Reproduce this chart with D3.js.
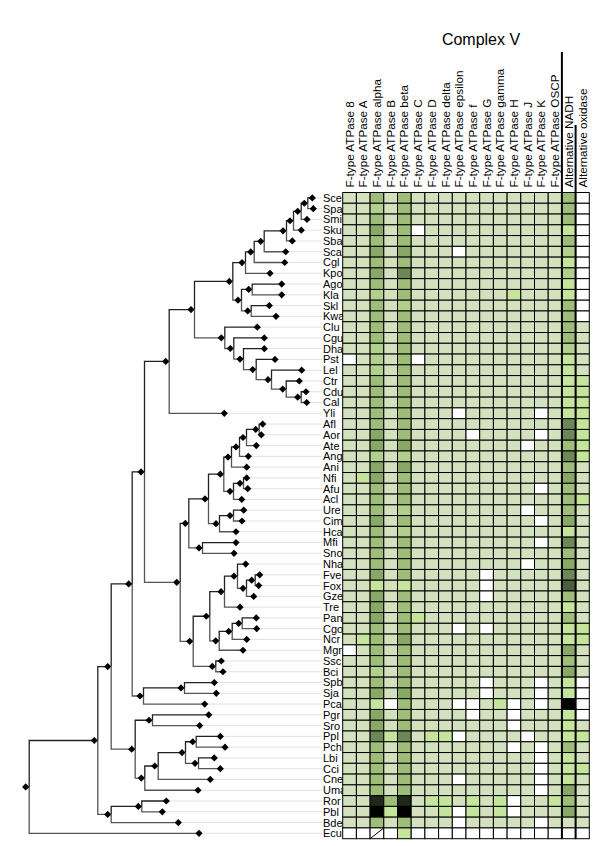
<!DOCTYPE html>
<html><head><meta charset="utf-8">
<script src="https://cdn.jsdelivr.net/npm/d3@7"></script>
<style>body{margin:0;background:#fff}svg{display:block}text{font-family:Arial,"Liberation Sans",sans-serif}</style>
</head><body>
<script>
// ---------- DATA ----------
const species = ["Sce","Spa","Smi","Sku","Sba","Sca","Cgl","Kpo","Ago","Kla","Skl","Kwa","Clu","Cgu","Dha","Pst","Lel","Ctr","Cdu","Cal","Yli","Afl","Aor","Ate","Ang","Ani","Nfi","Afu","Acl","Ure","Cim","Hca","Mfi","Sno","Nha","Fve","Fox","Gze","Tre","Pan","Cgo","Ncr","Mgr","Ssc","Bci","Spb","Sja","Pca","Pgr","Sro","Ppl","Pch","Lbi","Cci","Cne","Uma","Ror","Pbl","Bde","Ecu"];
const genes = ["F-type ATPase 8","F-type ATPase A","F-type ATPase alpha","F-type ATPase B","F-type ATPase beta","F-type ATPase C","F-type ATPase D","F-type ATPase delta","F-type ATPase epsilon","F-type ATPase f","F-type ATPase G","F-type ATPase gamma","F-type ATPase H","F-type ATPase J","F-type ATPase K","F-type ATPase OSCP","Alternative NADH","Alternative oxidase"];
const title = "Complex V";
// heat levels per species (one char per gene); x = absent with slash
const levels = [
"114141111111111140",
"113141111111111140",
"114141111111111140",
"115140111111111120",
"114141111111111140",
"115151110111111130",
"114141111111111120",
"115161111111111130",
"114141111111111120",
"113141111111211120",
"114131111111111140",
"114141111111111140",
"114141111111111141",
"114141111111111141",
"113141111111111131",
"013140111111111121",
"113141111111111121",
"114141111111111122",
"114141111111111122",
"114141111111111122",
"114141110111110122",
"114141111111111162",
"115141111011110162",
"115151111111101142",
"113131111111111162",
"115151111111111141",
"125141111111111151",
"114141111111110141",
"114141111111111142",
"114131111111101141",
"115141111111110151",
"114131111111111121",
"114141111111110161",
"114141111111111141",
"114141111111101151",
"115141111101111161",
"112121111101111171",
"115141111101111141",
"115141111111111121",
"115142111111111141",
"114141110101111122",
"124151111111111122",
"014141111111111151",
"114141111111111141",
"113141111111111151",
"114141111101110120",
"115151111101110120",
"112041110012010190",
"115141111011011120",
"115141111111011121",
"116261220111101122",
"114141111111010141",
"114141111111110121",
"114141111111110122",
"114141110111110121",
"114141111111110151",
"118481221212011241",
"119291120212011151",
"114141110111110111",
"00x020000000000000"
];
// tree (Newick; number after ':' = node position along the distance axis)
const nwSacch = "((((((((Sce:286.6,Spa:287.6):278.6,Smi:281.3):272,Sku:275.6):264.3,Sba:266.6):257.3,Sca:260):235,Cgl:259):225,Kpo:244.3):216.3,((Ago:256,Kla:256):223,(Skl:243.6,Kwa:250.3):222):212.3):203.6";
const nwCTG = "(Clu:231.6,(Cgu:238.6,(Dha:238.6,(Pst:249.3,(Lel:276,(Ctr:273.6,(Cdu:280.3,Cal:281):272):257):242.3):227):214.3):204.6):195.6";
const nwAsp = "(((((Afl:237,Aor:235.6):230,Ate:230.6):217.3,Ang:222.6):210.3,Ani:221):202.3,((Nfi:221,Afu:222):214.3,Acl:216):204.3):194.6";
const nwOny = "((Ure:218,Cim:216.3):204.3,Hca:210.3):190.3";
const nwDoth = "(Mfi:210.3,Sno:208.3):173.3";
const nwHyp = "((Nha:220,((Fve:234,Fox:233):226,Gze:228):217.3):208.3,Tre:214.3):195.3";
const nwSord = "(((Pan:230.6,Cgo:231):213,Ncr:221):203,Mgr:217.3):190";
const nwLeot = "(Ssc:195.6,Bci:197.3):186.6";
const nwTaph = "((Spb:188.6,Sja:190.6):155.3,Pca:179):114.3";
const nwBasid = "((Pgr:183,Sro:174):123.3,((((Ppl:194.6,Pch:199.3):167,(Lbi:188.6,Cci:194.6):169.3):156.3,Cne:184.6):129,Uma:172.3):115.6):106";
const nwEarly = "((Ror:140.6,Pbl:136.6):112.6,Bde:152.6):82";
const nwOut = "Ecu:173.3";

// ---------- STYLE ----------
const palette = {"0":"#ffffff","x":"#ffffff","1":"#d3e1bf","2":"#c5e59c","3":"#b0d08b","4":"#9dbd78","5":"#88a866","6":"#6d8856","7":"#4a5f3e","8":"#1f281a","9":"#000000"};

const nwPez = "(((" + nwAsp + "," + nwOny + "):179.3," + nwDoth + "):159.6,((" + nwHyp + "," + nwSord + "):180.6," + nwLeot + "):164):151";
const nwSaccharomycotina = "((" + nwSacch + "," + nwCTG + "):165.3,Yli:198.6):140";
const newick =
  "(((((" + nwSaccharomycotina + "," + nwPez + "):115.3," + nwTaph + "):103," +
  nwBasid + "):82," + nwEarly + "):68.6," + nwOut + "):0";

function parseNewick(s){
  let i=0;
  function node(){
    const n={};
    if(s[i]==='('){
      i++; n.children=[node()];
      while(s[i]===','){i++; n.children.push(node());}
      i++;
    }
    let name='';
    while(i<s.length && !':,()'.includes(s[i])) name+=s[i++];
    n.name=name;
    if(s[i]===':'){ i++; let num=''; while(i<s.length && !',()'.includes(s[i])) num+=s[i++]; n.depth=+num; }
    return n;
  }
  return node();
}

const W=600,H=846;
const svg=d3.select("body").append("svg").attr("width",W).attr("height",H);

const xg=d3.scaleBand().domain(genes).range([342.7,589.3]);
const ys=d3.scaleBand().domain(species).range([192.5,838.7]);
const tx=d3.scaleLinear().domain([0,290]).range([25.7,315.7]);

// ---------- TREE ----------
const root=d3.hierarchy(parseNewick(newick));
root.eachAfter(n=>{
  n.px=tx(n.data.depth);
  if(!n.children) n.py=ys(n.data.name)+ys.bandwidth()/2;
  else n.py=(n.children[0].py+n.children[n.children.length-1].py)/2;
});
const off=3.5;
const gT=svg.append("g");
gT.selectAll("line.lead").data(root.leaves()).join("line")
  .attr("x1",d=>d.px).attr("x2",322).attr("y1",d=>d.py).attr("y2",d=>d.py)
  .attr("stroke","#e2e2e2").attr("stroke-width",1);
gT.selectAll("path.br").data(root.links()).join("path")
  .attr("d",l=>`M${l.source.px+off},${l.source.py}V${l.target.py}H${l.target.px}`)
  .attr("fill","none")
  .attr("stroke",l=>l.source.children[0]===l.target?"#222":"#555")
  .attr("stroke-width",1.3);
const r=3.6;
gT.selectAll("path.nd").data(root.descendants()).join("path")
  .attr("d",d=>`M${d.px-r},${d.py}L${d.px},${d.py-r}L${d.px+r},${d.py}L${d.px},${d.py+r}Z`)
  .attr("fill","#000");

// ---------- LABELS ----------
svg.append("g").selectAll("text").data(species).join("text")
  .attr("x",323).attr("y",d=>ys(d)+ys.bandwidth()/2).attr("dy","0.36em")
  .attr("font-size",11).attr("fill","#000").text(d=>d);

svg.append("g").selectAll("text").data(genes).join("text")
  .attr("transform",d=>`translate(${xg(d)+xg.bandwidth()/2+0.3},187.5) rotate(-90) scale(1.065,0.95)`)
  .attr("dy","0.36em").attr("font-size",11).attr("fill","#000").text(d=>d);

svg.append("text").attr("x",481).attr("y",45).attr("text-anchor","middle")
  .attr("font-size",16).attr("fill","#000").text(title);

// ---------- HEATMAP ----------
const cells=[];
species.forEach((s,i)=>{ for(let j=0;j<genes.length;j++) cells.push({s,g:genes[j],v:levels[i][j]}); });
const gH=svg.append("g");
gH.selectAll("rect").data(cells).join("rect")
  .attr("x",d=>xg(d.g)).attr("y",d=>ys(d.s))
  .attr("width",xg.bandwidth()).attr("height",ys.bandwidth())
  .attr("fill",d=>palette[d.v]).attr("stroke","#000").attr("stroke-width",1);
gH.selectAll("line.slash").data(cells.filter(d=>d.v==="x")).join("line")
  .attr("x1",d=>xg(d.g)).attr("y1",d=>ys(d.s)+ys.bandwidth())
  .attr("x2",d=>xg(d.g)+xg.bandwidth()).attr("y2",d=>ys(d.s))
  .attr("stroke","#000").attr("stroke-width",1);

const yb=ys.range()[1];
svg.append("line").attr("x1",xg(genes[16])).attr("x2",xg(genes[16])).attr("y1",52).attr("y2",yb)
  .attr("stroke","#000").attr("stroke-width",2);
svg.append("line").attr("x1",xg(genes[17])).attr("x2",xg(genes[17])).attr("y1",125).attr("y2",yb)
  .attr("stroke","#000").attr("stroke-width",2);
</script>
</body></html>
